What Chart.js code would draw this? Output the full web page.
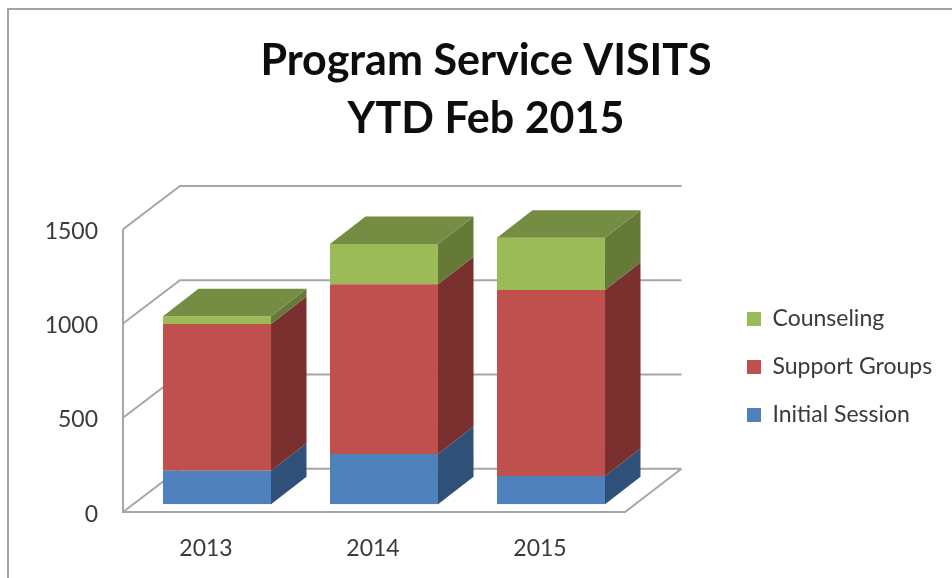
<!DOCTYPE html>
<html>
<head>
<meta charset="utf-8">
<title>Program Service VISITS</title>
<script src="https://cdn.jsdelivr.net/npm/chart.js@4"></script>
<style>
  html, body { margin: 0; background: #fff; }
  #frame { position: absolute; left: 7px; top: 8px; right: 0; bottom: 0; border-left: 2px solid #a3a3a3; border-top: 2px solid #a3a3a3; }
  #wrap { position: absolute; left: 0; top: 0; width: 952px; height: 578px; filter: blur(0.5px); }
</style>
</head>
<body>
<div id="frame"></div>
<div id="wrap"><canvas id="chart" width="952" height="578"></canvas></div>
<script>
const categories = ['2013', '2014', '2015'];
const initialSession = [178, 267, 150];
const supportGroups = [778, 900, 987];
const counseling = [42, 214, 277];
const titleLines = ['Program Service VISITS', 'YTD Feb 2015'];

const FONT = 'Lato, "Open Sans", sans-serif';
const TEXT = '#3a3a3a';
const GRID = '#a6a6a6';

// darker colours for the fake 3D faces
const sideColors = ['#2f5179', '#7a302f', '#667a38'];
const topColor = '#758c43';

// 3D box: how far the bars and the walls recede
const BAR_DX = 35.5, BAR_DY = -27.5;
const WALL_FRONT_DX = -10.5, WALL_FRONT_DY = 7.7;
const WALL_BACK_DX = 46.5, WALL_BACK_DY = -35.5;

function poly(ctx, pts, color) {
  ctx.fillStyle = color;
  ctx.beginPath();
  pts.forEach((p, i) => i ? ctx.lineTo(p[0], p[1]) : ctx.moveTo(p[0], p[1]));
  ctx.closePath();
  ctx.fill();
}

const box3d = {
  id: 'box3d',
  beforeLayout(chart) {
    // legend takes the whole right side so the plot ends where it should
    const legend = chart.legend;
    if (!legend._fit) {
      legend._fit = legend.fit;
      legend.fit = function () { this._fit(); this.width = 317.5; };
    }
  },
  afterLayout(chart) {
    chart.legend.left = 722;
    chart.legend.right = 945;
    chart.legend.top = 282.5;
    chart.legend.bottom = 570;
    chart.titleBlock.left += 20;
  },
  beforeDatasetsDraw(chart) {
    const { ctx, scales: { y }, chartArea: a } = chart;
    const fx = a.left + WALL_FRONT_DX;
    const bx = a.left + WALL_BACK_DX;
    const rx = a.right + WALL_BACK_DX + 0.5;
    const frx = a.right + WALL_FRONT_DX + 1;
    ctx.save();
    ctx.strokeStyle = GRID;
    ctx.lineWidth = 2;
    ctx.beginPath();
    y.ticks.forEach(t => {
      const py = y.getPixelForValue(t.value);
      ctx.moveTo(fx, py + WALL_FRONT_DY);
      ctx.lineTo(bx, py + WALL_BACK_DY);
      ctx.lineTo(rx, py + WALL_BACK_DY);
    });
    const y0 = y.getPixelForValue(0);
    ctx.moveTo(fx, y.getPixelForValue(1500) + WALL_FRONT_DY);
    ctx.lineTo(fx, y0 + WALL_FRONT_DY);
    ctx.lineTo(frx, y0 + WALL_FRONT_DY);
    ctx.lineTo(rx, y0 + WALL_BACK_DY);
    ctx.stroke();
    ctx.restore();
  },
  afterDatasetsDraw(chart) {
    const { ctx } = chart;
    chart.data.datasets.forEach((ds, i) => {
      chart.getDatasetMeta(i).data.forEach(bar => {
        const r = bar.x + bar.width / 2;
        const l = bar.x - bar.width / 2;
        poly(ctx, [[r, bar.y], [r + BAR_DX, bar.y + BAR_DY], [r + BAR_DX, bar.base + BAR_DY], [r, bar.base]], sideColors[i]);
        if (i === chart.data.datasets.length - 1) {
          poly(ctx, [[l, bar.y], [l + BAR_DX, bar.y + BAR_DY], [r + BAR_DX, bar.y + BAR_DY], [r, bar.y]], topColor);
        }
      });
    });
  }
};

new Chart(document.getElementById('chart'), {
  type: 'bar',
  data: {
    labels: categories,
    datasets: [
      { label: 'Initial Session', data: initialSession, backgroundColor: '#4f81bd' },
      { label: 'Support Groups', data: supportGroups, backgroundColor: '#c0504d' },
      { label: 'Counseling', data: counseling, backgroundColor: '#9bbb59' }
    ]
  },
  options: {
    responsive: false,
    animation: false,
    layout: { padding: 0, autoPadding: false },
    datasets: { bar: { categoryPercentage: 1, barPercentage: 0.647, borderWidth: 0 } },
    plugins: {
      title: {
        display: true,
        text: titleLines,
        color: '#0d0d0d',
        font: { family: FONT, size: 43, weight: 'bold', lineHeight: 1.35 },
        padding: { top: 32, bottom: 73.4 }
      },
      legend: {
        position: 'right',
        align: 'start',
        reverse: true,
        labels: {
          color: TEXT,
          font: { family: FONT, size: 23 },
          boxWidth: 14,
          boxHeight: 14,
          padding: 25
        }
      },
      tooltip: { enabled: false }
    },
    scales: {
      x: {
        stacked: true,
        grid: { display: false },
        border: { display: false },
        ticks: { color: TEXT, font: { family: FONT, size: 23 }, padding: 22.5, labelOffset: -11, maxRotation: 0 },
        afterFit(scale) { scale.height = 73.7; }
      },
      y: {
        stacked: true,
        min: 0,
        max: 1500,
        grid: { display: false },
        border: { display: false },
        ticks: { color: TEXT, font: { family: FONT, size: 23 }, stepSize: 500, padding: 27.5, labelOffset: 10, callback: v => String(v) },
        afterFit(scale) { scale.width = 133.5; }
      }
    }
  },
  plugins: [box3d]
});
</script>
</body>
</html>
